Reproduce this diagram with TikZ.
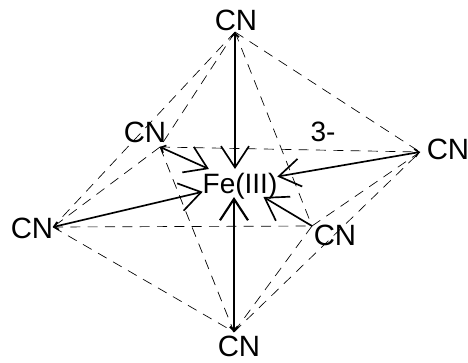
\documentclass[tikz,border=0pt]{standalone}
\usepackage{fontspec}
\setmainfont{Liberation Sans}
\usetikzlibrary{arrows.meta}
\tikzset{
  bondarrow/.style={{Straight Barb[length=3pt,width=6pt]}-{Straight Barb[length=16pt,width=21pt]}, line width=1.25pt},
  edgeline/.style={dashed, dash pattern=on 7.5pt off 5.5pt, line width=0.5pt},
  ligand/.style={font=\fontsize{22}{26}\selectfont, inner sep=0pt},
  metal/.style={font=\fontsize{21}{25}\selectfont, text depth=0pt, inner sep=0pt, outer sep=0pt, minimum width=55pt, minimum height=21pt}
}

\begin{document}
\begin{tikzpicture}[x=0.75pt, y=-0.75pt]
      \useasboundingbox (0,0) rectangle (468,362);
      % vertices of the octahedron
      \coordinate (vtop) at (235,32);
      \coordinate (vback) at (160,147);
      \coordinate (vright) at (420,152);
      \coordinate (vleft) at (53,227);
      \coordinate (vfront) at (312,226);
      \coordinate (vbottom) at (234,332);
      % labels
      \node[metal] (fe) at (240,183) {Fe(III)};
      \node[ligand] (cntop) at (236,20) {CN};
      \node[ligand] (cnback) at (145,132) {CN};
      \node[ligand] (cnright) at (448,149) {CN};
      \node[ligand] (cnleft) at (32,228) {CN};
      \node[ligand] (cnfront) at (335,235) {CN};
      \node[ligand] (cnbottom) at (239,346) {CN};
      \node[metal, minimum width=0pt, minimum height=0pt] (charge) at (323,132) {3-};
      % dashed edges
      \foreach \a/\b in {vtop/vback, vtop/vleft, vtop/vfront, vtop/vright, vback/vleft, vback/vright, vback/vbottom, vleft/vfront, vleft/vbottom, vfront/vright, vfront/vbottom, vbottom/vright}
        \draw[edgeline] (\a) -- (\b);
      % bonds
      \draw[bondarrow] (vtop) -- (vtop |- fe.north);
      \draw[bondarrow] (vback) -- (fe);
      \draw[bondarrow] (vright) -- (fe);
      \draw[bondarrow] (vleft) -- (fe);
      \draw[bondarrow, -{Straight Barb[length=16pt,width=21pt]}] (vfront) -- (fe);
      \draw[bondarrow, line width=1.6pt] (vbottom) -- (vbottom |- fe.south);
    \end{tikzpicture}
\end{document}
